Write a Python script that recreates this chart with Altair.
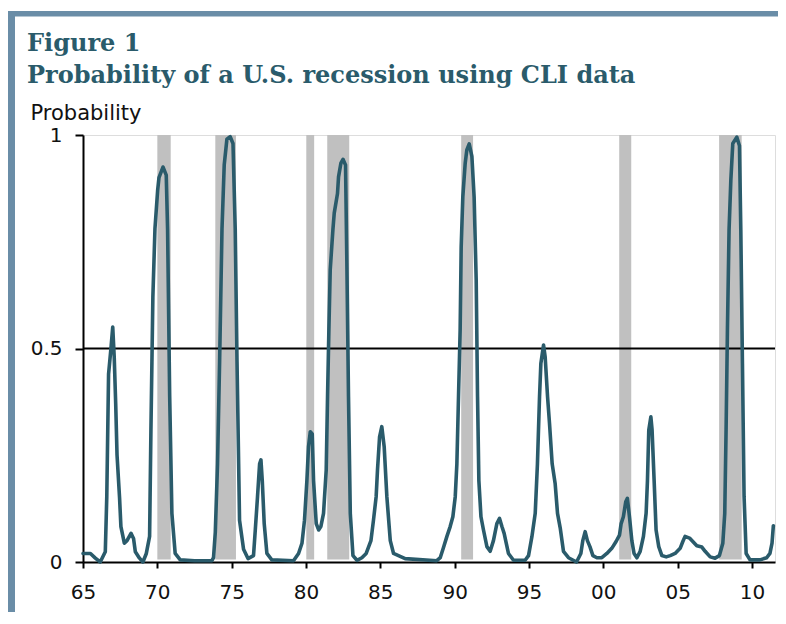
import altair as alt
import pandas as pd

# Probability series (decimal year, probability)
years = [1965.0, 1965.5, 1965.83, 1966.16, 1966.5, 1966.6, 1966.72, 1966.88, 1967.0, 1967.1,
         1967.2, 1967.29, 1967.46, 1967.55, 1967.78, 1967.96, 1968.23, 1968.4, 1968.52, 1968.8,
         1969.03, 1969.26, 1969.48, 1969.57, 1969.7, 1969.84, 1970.02, 1970.11, 1970.38, 1970.6,
         1970.69, 1970.83, 1970.98, 1971.2, 1971.54, 1972.5, 1973.67, 1973.78, 1973.9, 1974.05,
         1974.19, 1974.35, 1974.5, 1974.68, 1974.9, 1975.09, 1975.24, 1975.36, 1975.53, 1975.8,
         1976.1, 1976.47, 1976.59, 1976.74, 1976.88, 1976.97, 1977.06, 1977.19, 1977.37, 1977.7,
         1979.16, 1979.5, 1979.73, 1979.9, 1980.06, 1980.17, 1980.29, 1980.42, 1980.51, 1980.69,
         1980.85, 1981.0, 1981.18, 1981.36, 1981.45, 1981.54, 1981.63, 1981.81, 1981.9, 1982.12,
         1982.19, 1982.35, 1982.49, 1982.66, 1982.75, 1982.86, 1982.98, 1983.16, 1983.43, 1983.76,
         1984.05, 1984.37, 1984.54, 1984.72, 1984.81, 1984.95, 1985.1, 1985.26, 1985.44, 1985.67,
         1985.89, 1986.22, 1986.67, 1988.8, 1989.03, 1989.25, 1989.48, 1989.7, 1989.88, 1990.04,
         1990.15, 1990.26, 1990.37, 1990.44, 1990.55, 1990.71, 1990.82, 1990.98, 1991.16, 1991.31,
         1991.45, 1991.54, 1991.63, 1991.77, 1991.94, 1992.17, 1992.39, 1992.61, 1992.84, 1993.02,
         1993.18, 1993.33, 1993.47, 1993.62, 1993.96, 1994.74, 1994.97, 1995.2, 1995.42, 1995.57,
         1995.71, 1995.8, 1995.98, 1996.09, 1996.25, 1996.38, 1996.56, 1996.76, 1996.92, 1997.1,
         1997.32, 1997.66, 1998.2, 1998.49, 1998.62, 1998.78, 1998.93, 1999.1, 1999.3, 1999.57,
         1999.9, 2000.24, 2000.57, 2000.86, 2001.09, 2001.2, 2001.35, 2001.51, 2001.62, 2001.76,
         2001.92, 2002.07, 2002.26, 2002.48, 2002.7, 2002.88, 2002.97, 2003.06, 2003.2, 2003.28,
         2003.42, 2003.55, 2003.73, 2003.94, 2004.23, 2004.5, 2004.83, 2005.17, 2005.35, 2005.5,
         2005.8, 2006.02, 2006.29, 2006.63, 2006.85, 2007.19, 2007.52, 2007.81, 2008.04, 2008.17,
         2008.26, 2008.35, 2008.46, 2008.58, 2008.71, 2008.98, 2009.16, 2009.25, 2009.36, 2009.47,
         2009.61, 2009.87, 2010.54, 2010.99, 2011.21, 2011.35, 2011.44]

probs = [0.02, 0.02, 0.009, 0.0, 0.024, 0.153, 0.44, 0.50, 0.55, 0.48,
         0.37, 0.25, 0.15, 0.083, 0.044, 0.05, 0.067, 0.055, 0.024, 0.009,
         0.0, 0.02, 0.06, 0.31, 0.62, 0.78, 0.87, 0.90, 0.925, 0.906,
         0.78, 0.39, 0.114, 0.02, 0.005, 0.003, 0.003, 0.01, 0.07, 0.23,
         0.47, 0.78, 0.93, 0.99, 0.996, 0.98, 0.78, 0.47, 0.098, 0.03,
         0.008, 0.015, 0.075, 0.153, 0.23, 0.239, 0.19, 0.09, 0.02, 0.005,
         0.003, 0.02, 0.044, 0.098, 0.19, 0.27, 0.305, 0.30, 0.19, 0.09,
         0.075, 0.083, 0.114, 0.215, 0.387, 0.543, 0.684, 0.778, 0.817, 0.863,
         0.902, 0.934, 0.943, 0.93, 0.70, 0.387, 0.114, 0.015, 0.004, 0.01,
         0.02, 0.05, 0.098, 0.153, 0.215, 0.293, 0.317, 0.27, 0.153, 0.05,
         0.02, 0.015, 0.008, 0.003, 0.01, 0.034, 0.06, 0.083, 0.106, 0.153,
         0.23, 0.387, 0.543, 0.738, 0.855, 0.934, 0.965, 0.979, 0.95, 0.855,
         0.66, 0.387, 0.19, 0.106, 0.075, 0.036, 0.025, 0.05, 0.09, 0.102,
         0.083, 0.067, 0.044, 0.02, 0.004, 0.004, 0.015, 0.06, 0.114, 0.23,
         0.387, 0.465, 0.508, 0.48, 0.387, 0.325, 0.23, 0.184, 0.114, 0.08,
         0.025, 0.01, 0.0, 0.02, 0.05, 0.071, 0.05, 0.036, 0.015, 0.01,
         0.01, 0.02, 0.032, 0.048, 0.063, 0.09, 0.106, 0.141, 0.149, 0.106,
         0.05, 0.02, 0.01, 0.025, 0.06, 0.114, 0.19, 0.309, 0.34, 0.31,
         0.19, 0.075, 0.036, 0.015, 0.012, 0.015, 0.02, 0.032, 0.048, 0.06,
         0.056, 0.048, 0.038, 0.035, 0.025, 0.012, 0.009, 0.015, 0.044, 0.114,
         0.31, 0.543, 0.778, 0.895, 0.98, 0.995, 0.975, 0.778, 0.465, 0.153,
         0.02, 0.005, 0.005, 0.01, 0.02, 0.044, 0.085]

# Recession periods (shaded)
rec_start = [1970.0, 1973.9, 1980.02, 1981.43, 1990.44, 2001.07, 2007.79]
rec_end = [1970.9, 1975.29, 1980.55, 1982.91, 1991.24, 2001.88, 2009.31]

tick_years = [1965, 1970, 1975, 1980, 1985, 1990, 1995, 2000, 2005, 2010]
y_ticks = [0, 0.5, 1]

TEAL = "#2A5B6B"
FRAME = "#6A8DA7"
SANS = "DejaVu Sans"

series = pd.DataFrame({"year": years, "p": probs})
rec = pd.DataFrame({"start": rec_start, "end": rec_end, "top": 1.0, "bot": 0.006})
half = pd.DataFrame({"y": [0.5]})

xscale = alt.Scale(domain=[1965, 2011.55], nice=False, zero=False)
yscale = alt.Scale(domain=[0, 1], nice=False)

xaxis = alt.Axis(values=tick_years, grid=False, domainColor="black", domainWidth=2,
                 tickColor="black", tickWidth=2, tickSize=6, labelFont=SANS, labelFontSize=20,
                 labelColor="#111", labelPadding=14, title=None, labelFlush=False,
                 labelExpr="(datum.value % 100) < 10 ? '0' + (datum.value % 100) : '' + (datum.value % 100)")
yaxis = alt.Axis(values=y_ticks, grid=False, domainColor="black", domainWidth=2,
                 tickColor="black", tickWidth=2, tickSize=8, labelFont=SANS, labelFontSize=20,
                 labelColor="#111", labelPadding=13, format="~g",
                 title="Probability", titleAngle=0, titleAlign="left", titleBaseline="alphabetic",
                 titleX=-53, titleY=-16, titleFont=SANS, titleFontSize=21, titleFontWeight="normal",
                 titleColor="#111")

bands = alt.Chart(rec).mark_rect(color="#C0C0C0").encode(
    x=alt.X("start:Q", scale=xscale, axis=xaxis),
    x2="end:Q",
    y=alt.Y("top:Q", scale=yscale, axis=yaxis),
    y2="bot:Q",
)

rule = alt.Chart(half).mark_rule(color="black", strokeWidth=2).encode(y=alt.Y("y:Q", scale=yscale))

line = alt.Chart(series).mark_line(color=TEAL, strokeWidth=3.6, strokeJoin="round", strokeCap="round").encode(
    x=alt.X("year:Q", scale=xscale),
    y=alt.Y("p:Q", scale=yscale),
)

deco = pd.DataFrame({"k": [0]})
top_border = alt.Chart(deco).mark_rect(color=FRAME).encode(
    x=alt.value(-75), x2=alt.value(695), y=alt.value(-124), y2=alt.value(-118.5))
left_border = alt.Chart(deco).mark_rect(color=FRAME).encode(
    x=alt.value(-75), x2=alt.value(-68), y=alt.value(-124), y2=alt.value(477))

chart = alt.layer(top_border, left_border, bands, rule, line).properties(
    width=692, height=427,
    padding={"left": 75, "top": 127, "right": 3, "bottom": 50},
    autosize=alt.AutoSizeParams(type="none"),
    title=alt.TitleParams(
        text=["Figure 1", "Probability of a U.S. recession using CLI data"],
        font="DejaVu Serif", fontSize=24, fontWeight="bold", color=TEAL,
        anchor="start", frame="group", dx=-56, lineHeight=32, offset=0,
        baseline="alphabetic", dy=96,
    ),
).configure_view(stroke=None).configure(background="white")

chart.save("out.html", embed_options={"renderer": "svg", "actions": False})
